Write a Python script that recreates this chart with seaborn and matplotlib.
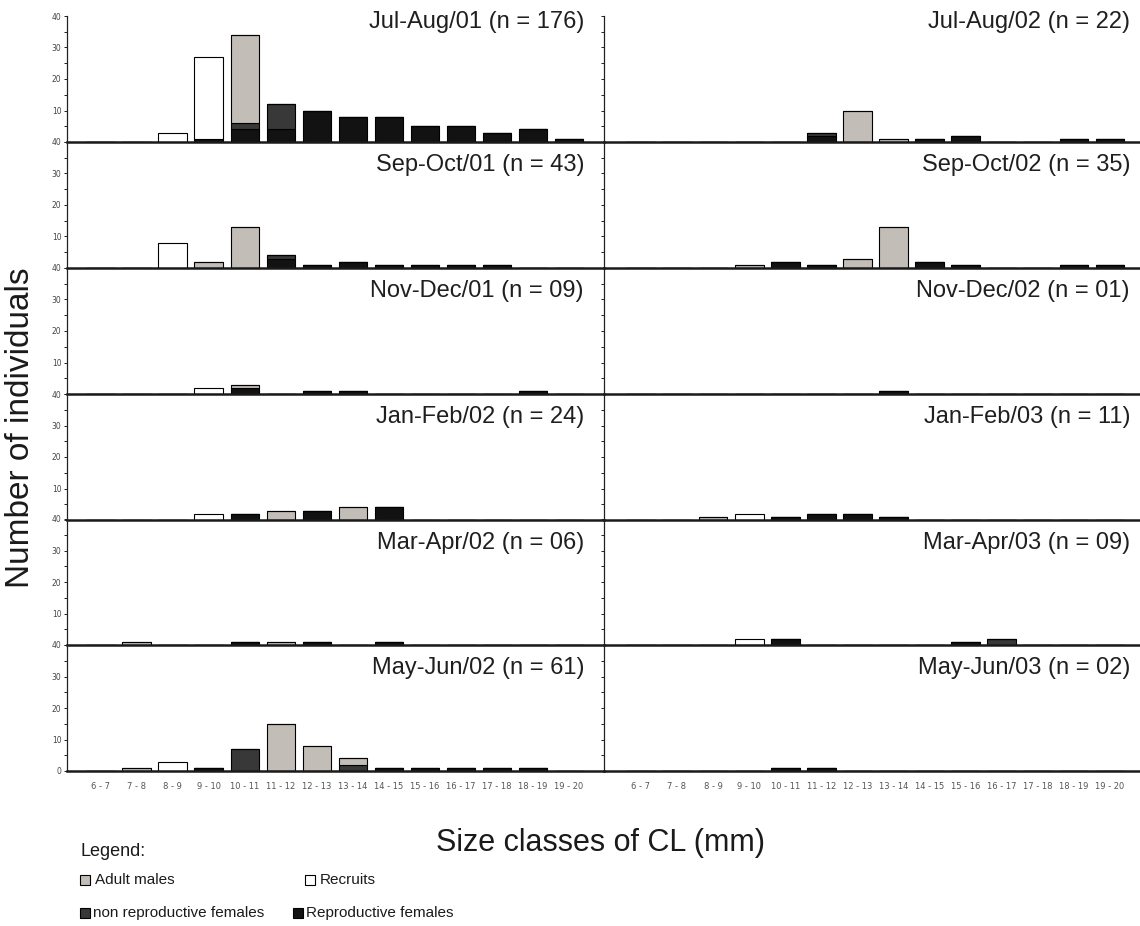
import numpy as np
import pandas as pd
import matplotlib
matplotlib.use("Agg")
import matplotlib.pyplot as plt
from matplotlib.patches import Rectangle
from matplotlib.ticker import MultipleLocator, FixedLocator
import seaborn as sns

# ---------------------------------------------------------------- data
SIZE_CLASSES = ["6 - 7", "7 - 8", "8 - 9", "9 - 10", "10 - 11", "11 - 12", "12 - 13",
                "13 - 14", "14 - 15", "15 - 16", "16 - 17", "17 - 18", "18 - 19", "19 - 20"]

# stacking order, bottom to top
GROUPS = ["Reproductive females", "non reproductive females", "Adult males", "Recruits"]

# counts per size class for each bimonthly sample
JUL_AUG_01 = {
    "Reproductive females":     [0, 0, 0, 1, 4, 4, 10, 8, 8, 5, 5, 3, 4, 1],
    "non reproductive females": [0, 0, 0, 0, 2, 8, 0, 0, 0, 0, 0, 0, 0, 0],
    "Adult males":              [0, 0, 0, 0, 28, 0, 0, 0, 0, 0, 0, 0, 0, 0],
    "Recruits":                 [0, 0, 3, 26, 0, 0, 0, 0, 0, 0, 0, 0, 0, 0],
}
JUL_AUG_02 = {
    "Reproductive females":     [0, 0, 0, 0, 0, 2, 0, 0, 1, 2, 0, 0, 1, 1],
    "non reproductive females": [0, 0, 0, 0, 0, 1, 0, 0, 0, 0, 0, 0, 0, 0],
    "Adult males":              [0, 0, 0, 0, 0, 0, 10, 1, 0, 0, 0, 0, 0, 0],
    "Recruits":                 [0, 0, 0, 0, 0, 0, 0, 0, 0, 0, 0, 0, 0, 0],
}
SEP_OCT_01 = {
    "Reproductive females":     [0, 0, 0, 0, 0, 3, 1, 2, 1, 1, 1, 1, 0, 0],
    "non reproductive females": [0, 0, 0, 0, 0, 1, 0, 0, 0, 0, 0, 0, 0, 0],
    "Adult males":              [0, 0, 0, 2, 13, 0, 0, 0, 0, 0, 0, 0, 0, 0],
    "Recruits":                 [0, 0, 8, 0, 0, 0, 0, 0, 0, 0, 0, 0, 0, 0],
}
SEP_OCT_02 = {
    "Reproductive females":     [0, 0, 0, 0, 2, 1, 0, 0, 2, 1, 0, 0, 1, 1],
    "non reproductive females": [0, 0, 0, 0, 0, 0, 0, 0, 0, 0, 0, 0, 0, 0],
    "Adult males":              [0, 0, 0, 1, 0, 0, 3, 13, 0, 0, 0, 0, 0, 0],
    "Recruits":                 [0, 0, 0, 0, 0, 0, 0, 0, 0, 0, 0, 0, 0, 0],
}
NOV_DEC_01 = {
    "Reproductive females":     [0, 0, 0, 0, 2, 0, 1, 1, 0, 0, 0, 0, 1, 0],
    "non reproductive females": [0, 0, 0, 0, 0, 0, 0, 0, 0, 0, 0, 0, 0, 0],
    "Adult males":              [0, 0, 0, 0, 1, 0, 0, 0, 0, 0, 0, 0, 0, 0],
    "Recruits":                 [0, 0, 0, 2, 0, 0, 0, 0, 0, 0, 0, 0, 0, 0],
}
NOV_DEC_02 = {
    "Reproductive females":     [0, 0, 0, 0, 0, 0, 0, 1, 0, 0, 0, 0, 0, 0],
    "non reproductive females": [0, 0, 0, 0, 0, 0, 0, 0, 0, 0, 0, 0, 0, 0],
    "Adult males":              [0, 0, 0, 0, 0, 0, 0, 0, 0, 0, 0, 0, 0, 0],
    "Recruits":                 [0, 0, 0, 0, 0, 0, 0, 0, 0, 0, 0, 0, 0, 0],
}
JAN_FEB_02 = {
    "Reproductive females":     [0, 0, 0, 0, 2, 0, 3, 0, 4, 0, 0, 0, 0, 0],
    "non reproductive females": [0, 0, 0, 0, 0, 0, 0, 0, 0, 0, 0, 0, 0, 0],
    "Adult males":              [0, 0, 0, 0, 0, 3, 0, 4, 0, 0, 0, 0, 0, 0],
    "Recruits":                 [0, 0, 0, 2, 0, 0, 0, 0, 0, 0, 0, 0, 0, 0],
}
JAN_FEB_03 = {
    "Reproductive females":     [0, 0, 0, 0, 1, 2, 2, 1, 0, 0, 0, 0, 0, 0],
    "non reproductive females": [0, 0, 0, 0, 0, 0, 0, 0, 0, 0, 0, 0, 0, 0],
    "Adult males":              [0, 0, 1, 0, 0, 0, 0, 0, 0, 0, 0, 0, 0, 0],
    "Recruits":                 [0, 0, 0, 2, 0, 0, 0, 0, 0, 0, 0, 0, 0, 0],
}
MAR_APR_02 = {
    "Reproductive females":     [0, 0, 0, 0, 1, 0, 1, 0, 1, 0, 0, 0, 0, 0],
    "non reproductive females": [0, 0, 0, 0, 0, 0, 0, 0, 0, 0, 0, 0, 0, 0],
    "Adult males":              [0, 1, 0, 0, 0, 1, 0, 0, 0, 0, 0, 0, 0, 0],
    "Recruits":                 [0, 0, 0, 0, 0, 0, 0, 0, 0, 0, 0, 0, 0, 0],
}
MAR_APR_03 = {
    "Reproductive females":     [0, 0, 0, 0, 2, 0, 0, 0, 0, 1, 0, 0, 0, 0],
    "non reproductive females": [0, 0, 0, 0, 0, 0, 0, 0, 0, 0, 2, 0, 0, 0],
    "Adult males":              [0, 0, 0, 0, 0, 0, 0, 0, 0, 0, 0, 0, 0, 0],
    "Recruits":                 [0, 0, 0, 2, 0, 0, 0, 0, 0, 0, 0, 0, 0, 0],
}
MAY_JUN_02 = {
    "Reproductive females":     [0, 0, 0, 1, 0, 0, 0, 0, 1, 1, 1, 1, 1, 0],
    "non reproductive females": [0, 0, 0, 0, 7, 0, 0, 2, 0, 0, 0, 0, 0, 0],
    "Adult males":              [0, 1, 0, 0, 0, 15, 8, 2, 0, 0, 0, 0, 0, 0],
    "Recruits":                 [0, 0, 3, 0, 0, 0, 0, 0, 0, 0, 0, 0, 0, 0],
}
MAY_JUN_03 = {
    "Reproductive females":     [0, 0, 0, 0, 1, 1, 0, 0, 0, 0, 0, 0, 0, 0],
    "non reproductive females": [0, 0, 0, 0, 0, 0, 0, 0, 0, 0, 0, 0, 0, 0],
    "Adult males":              [0, 0, 0, 0, 0, 0, 0, 0, 0, 0, 0, 0, 0, 0],
    "Recruits":                 [0, 0, 0, 0, 0, 0, 0, 0, 0, 0, 0, 0, 0, 0],
}

LEFT_PANELS = [("Jul-Aug/01", "176", JUL_AUG_01), ("Sep-Oct/01", "43", SEP_OCT_01),
               ("Nov-Dec/01", "09", NOV_DEC_01), ("Jan-Feb/02", "24", JAN_FEB_02),
               ("Mar-Apr/02", "06", MAR_APR_02), ("May-Jun/02", "61", MAY_JUN_02)]
RIGHT_PANELS = [("Jul-Aug/02", "22", JUL_AUG_02), ("Sep-Oct/02", "35", SEP_OCT_02),
                ("Nov-Dec/02", "01", NOV_DEC_02), ("Jan-Feb/03", "11", JAN_FEB_03),
                ("Mar-Apr/03", "09", MAR_APR_03), ("May-Jun/03", "02", MAY_JUN_03)]

# ---------------------------------------------------------------- style
COLORS = {
    "Adult males": "#c3bdb8",
    "Recruits": "#ffffff",
    "non reproductive females": "#383838",
    "Reproductive females": "#121212",
}

sns.set_theme(style="white")
plt.rcParams["font.family"] = ["Liberation Sans", "DejaVu Sans"]

W, H = 1140, 926
fig = plt.figure(figsize=(W / 100, H / 100), dpi=100)
fig.patch.set_facecolor("white")


def fx(px):
    return px / W


def fy(py):
    return 1 - py / H


ROW_BASE = [142, 268, 394, 520, 645, 771]   # baselines (pixel rows)
ROW_H = 126
COLS = [
    dict(x0=67, x1=604, xlim=(-0.94, 13.97), title_right=584),
    dict(x0=604, x1=1140, xlim=(-1.02, 13.83), title_right=1130),
]
NARROW = ["Liberation Sans Narrow", "DejaVu Sans"]


def draw_panel(ax, counts, xlim, left_col, bottom_row):
    df = pd.DataFrame(counts, index=SIZE_CLASSES)
    base = np.zeros(len(SIZE_CLASSES))
    for g in GROUPS:
        vals = df[g].to_numpy(dtype=float)
        sns.barplot(x=SIZE_CLASSES, y=vals, order=SIZE_CLASSES, color=COLORS[g],
                    saturation=1, width=0.8, errorbar=None, bottom=base.copy(),
                    edgecolor="black", linewidth=0.8, ax=ax)
        base += vals

    ax.set_xlim(*xlim)
    ax.set_ylim(0, 40)
    ax.set_xlabel("")
    ax.set_ylabel("")
    ax.set_facecolor("none")
    for side in ("top", "right"):
        ax.spines[side].set_visible(False)
    ax.spines["left"].set_color("#222222")
    ax.spines["left"].set_linewidth(0.9)
    ax.spines["bottom"].set_color("#1a1a1a")
    ax.spines["bottom"].set_linewidth(1.8)
    ax.spines["bottom"].set_zorder(5)

    # the zero of each panel sits on the 40 of the panel below it
    major = [0, 10, 20, 30, 40] if bottom_row else [10, 20, 30, 40]
    ax.yaxis.set_major_locator(FixedLocator(major))
    ax.yaxis.set_minor_locator(MultipleLocator(5))
    ax.tick_params(axis="y", which="both", direction="out", left=True,
                   length=2.5, width=0.7, color="#222222")
    if left_col:
        ax.tick_params(axis="y", which="major", labelsize=5.5, labelcolor="#444444", pad=1.5)
        for lab in ax.get_yticklabels():
            lab.set_fontfamily(NARROW)
    else:
        ax.tick_params(axis="y", which="both", labelleft=False)

    ax.tick_params(axis="x", which="both", bottom=False, length=0)
    if bottom_row:
        ax.set_xticks(range(len(SIZE_CLASSES)))
        ax.set_xticklabels(SIZE_CLASSES, fontsize=6, color="#555555", family=NARROW)
        ax.tick_params(axis="x", pad=8)
    else:
        ax.set_xticks([])


for c, (col, panels) in enumerate(zip(COLS, [LEFT_PANELS, RIGHT_PANELS])):
    for r, (period, n, counts) in enumerate(panels):
        base_px = ROW_BASE[r]
        ax = fig.add_axes([fx(col["x0"]), fy(base_px), fx(col["x1"] - col["x0"]), ROW_H / H])
        draw_panel(ax, counts, col["xlim"], left_col=(c == 0), bottom_row=(r == len(panels) - 1))
        title_y = 22 if r == 0 else ROW_BASE[r - 1] + 23
        fig.text(fx(col["title_right"]), fy(title_y), f"{period} (n = {n})",
                 ha="right", va="center", fontsize=17, color="#1f1f1f")

# axis titles
fig.text(fx(21), fy(428), "Number of individuals", rotation=90, ha="center", va="center",
         fontsize=24, color="#1a1a1a")
fig.text(fx(601), fy(843), "Size classes of CL (mm)", ha="center", va="center",
         fontsize=22, color="#1a1a1a")

# legend block
fig.text(fx(80), fy(851), "Legend:", ha="left", va="center", fontsize=13, color="#1a1a1a")
LEGEND_ITEMS = [
    ("Adult males", 80, 95, 880),
    ("Recruits", 305, 320, 880),
    ("non reproductive females", 80, 93, 913),
    ("Reproductive females", 293, 306, 913),
]
for label, sq_x, tx_x, yy in LEGEND_ITEMS:
    fig.add_artist(Rectangle((fx(sq_x), fy(yy + 5)), fx(10), 10 / H,
                             transform=fig.transFigure, facecolor=COLORS[label],
                             edgecolor="black", linewidth=0.8))
    fig.text(fx(tx_x), fy(yy), label, ha="left", va="center", fontsize=11, color="#1a1a1a")

fig.savefig("out.png", dpi=100, facecolor="white")
